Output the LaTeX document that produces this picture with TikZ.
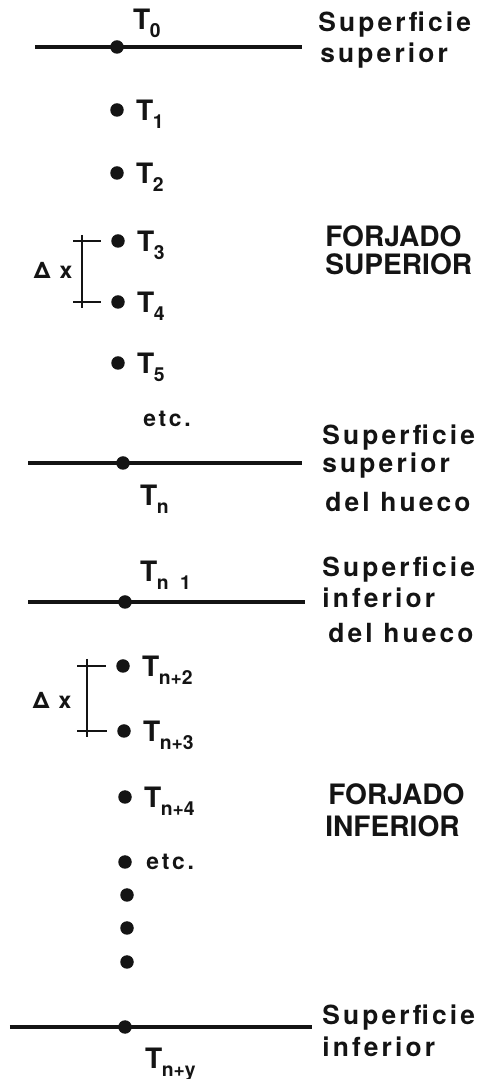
\documentclass[tikz,border=0pt]{standalone}
\usepackage{fontspec}
\usepackage{xcolor}
\usepackage{tikz}
\usetikzlibrary{positioning}
\newfontfamily\lblfont[LetterSpace=12]{TeX Gyre Heros}
\newfontfamily\capfont{TeX Gyre Heros}
\definecolor{figline}{RGB}{20,20,20}
\newcommand{\Tsub}[1]{T\kern-0.3pt\raisebox{-4.5pt}{\fontsize{11}{11}\selectfont #1}}
\tikzset{
  srf/.style  ={draw=figline, line width=2.2pt},
  brk/.style  ={draw=figline, line width=1.3pt},
  pt/.style   ={circle, fill=figline, inner sep=0pt, minimum size=0.27cm},
  tlab/.style ={font=\capfont\fontsize{16}{16}\selectfont\bfseries, text=figline, text height=11.5pt, text depth=0pt, inner sep=1pt},
  lab/.style  ={font=\lblfont\fontsize{15}{15}\selectfont\bfseries, text=figline, inner sep=0pt, anchor=base west},
  labc/.style ={font=\capfont\fontsize{16}{16}\selectfont\bfseries, text=figline, inner sep=0pt, anchor=base west},
  dlab/.style ={font=\lblfont\fontsize{13}{13}\selectfont\bfseries, text=figline, inner sep=0pt},
}
\begin{document}
\begin{tikzpicture}
  \useasboundingbox (0,0) rectangle (9.7,21.58);
  % surfaces
  \coordinate (s0l) at (0.70,20.64);  \coordinate (s0r) at (6.04,20.64);
  \coordinate (s1l) at (0.56,12.32);  \coordinate (s1r) at (6.04,12.32);
  \coordinate (s2l) at (0.56,9.54);   \coordinate (s2r) at (6.10,9.54);
  \coordinate (s3l) at (0.20,1.04);   \coordinate (s3r) at (6.24,1.04);
  \draw[srf] (s0l) -- (s0r);
  \draw[srf] (s1l) -- (s1r);
  \draw[srf] (s2l) -- (s2r);
  \draw[srf] (s3l) -- (s3r);
  % points
  \node[pt] (t0) at (2.34,20.64) {};
  \node[pt] (t1) at (2.34,19.38) {};
  \node[pt] (t2) at (2.34,18.12) {};
  \node[pt] (t3) at (2.36,16.76) {};
  \node[pt] (t4) at (2.36,15.54) {};
  \node[pt] (t5) at (2.36,14.32) {};
  \node[pt] (tn) at (2.46,12.32) {};
  \node[pt] (tn1) at (2.50,9.54) {};
  \node[pt] (tn2) at (2.46,8.26) {};
  \node[pt] (tn3) at (2.48,6.96) {};
  \node[pt] (tn4) at (2.50,5.64) {};
  \node[pt] (tn5) at (2.50,4.34) {};
  \node[pt] (d1) at (2.54,3.68) {};
  \node[pt] (d2) at (2.54,3.02) {};
  \node[pt] (d3) at (2.54,2.34) {};
  \node[pt] (tny) at (2.50,1.04) {};
  % point labels
  \node[tlab,anchor=west] (l0) at (2.62,21.20) {\Tsub{0}};
  \node[tlab,right=0.2 of t1] (l1) {\Tsub{1}};
  \node[tlab,right=0.2 of t2] (l2) {\Tsub{2}};
  \node[tlab,right=0.2 of t3] (l3) {\Tsub{3}};
  \node[tlab,right=0.2 of t4] (l4) {\Tsub{4}};
  \node[tlab,right=0.2 of t5] (l5) {\Tsub{5}};
  \node[dlab] (etc1) at (3.34,13.2) {etc.};
  \node[tlab,anchor=west] (ln) at (2.76,11.68) {\Tsub{n}};
  \node[tlab,anchor=west] (ln1) at (2.76,10.16) {\Tsub{n\hspace{0.6em}1}};
  \node[tlab,right=0.2 of tn2] (ln2) {\Tsub{n+2}};
  \node[tlab,right=0.2 of tn3] (ln3) {\Tsub{n+3}};
  \node[tlab,right=0.2 of tn4] (ln4) {\Tsub{n+4}};
  \node[dlab,right=0.28 of tn5] (etc2) {etc.};
  \node[tlab,anchor=west] (lny) at (2.86,0.42) {\Tsub{n+y}};
  % spacing brackets
  \draw[brk] (1.64,16.88) -- (1.64,15.42);
  \draw[brk] (1.46,16.76) -- ([xshift=-0.2cm]t3.west);
  \draw[brk] (1.46,15.54) -- ([xshift=-0.2cm]t4.west);
  \node[dlab] (dx1) at (1.06,16.18) {Δ x};
  \draw[brk] (1.74,8.40) -- (1.74,6.84);
  \draw[brk] (1.54,8.26) -- ([xshift=-0.2cm]tn2.west);
  \draw[brk] (1.54,6.96) -- ([xshift=-0.2cm]tn3.west);
  \node[dlab] (dx2) at (1.04,7.58) {Δ x};
  % right column
  \node[lab] (r0a) at (6.36,20.94) {Superficie};
  \node[lab] (r0b) at (6.40,20.32) {superior};
  \node[labc] (r1a) at (6.50,16.64) {FORJADO};
  \node[labc] (r1b) at (6.50,16.08) {SUPERIOR};
  \node[lab] (r2a) at (6.44,12.68) {Superficie};
  \node[lab] (r2b) at (6.44,12.12) {superior};
  \node[lab] (r2c) at (6.50,11.34) {del hueco};
  \node[lab] (r3a) at (6.44,10.04) {Superficie};
  \node[lab] (r3b) at (6.44,9.42) {inferior};
  \node[lab] (r3c) at (6.56,8.72) {del hueco};
  \node[labc] (r4a) at (6.56,5.48) {FORJADO};
  \node[labc] (r4b) at (6.50,4.84) {INFERIOR};
  \node[lab] (r5a) at (6.44,1.08) {Superficie};
  \node[lab] (r5b) at (6.44,0.44) {inferior};
\end{tikzpicture}
\end{document}
